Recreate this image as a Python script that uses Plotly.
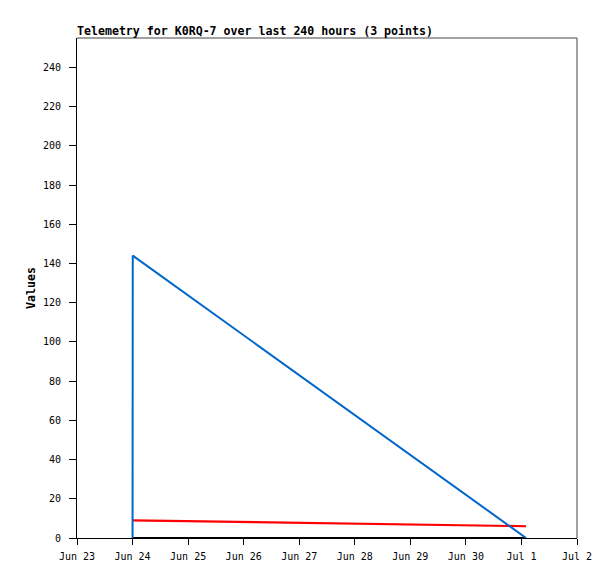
import plotly.graph_objects as go

times = ["2024-06-24 00:00", "2024-06-24 00:05", "2024-07-01 02:00"]
blue_vals = [0, 144, 0]
red_vals = [9, 9, 6]
black_vals = [0, 0, 0]

title_text = "Telemetry for K0RQ-7 over last 240 hours (3 points)"
y_ticks = list(range(0, 241, 20))

mono = "DejaVu Sans Mono"

fig = go.Figure()
fig.add_trace(go.Scatter(x=times, y=black_vals, mode="lines",
                         line=dict(color="#000000", width=2), showlegend=False))
fig.add_trace(go.Scatter(x=times, y=red_vals, mode="lines",
                         line=dict(color="#ff0000", width=2.2), showlegend=False))
fig.add_trace(go.Scatter(x=times, y=blue_vals, mode="lines",
                         line=dict(color="#0066cc", width=2), showlegend=False))

fig.update_layout(
    width=615, height=579,
    margin=dict(l=77, r=38, t=38, b=41),
    paper_bgcolor="white", plot_bgcolor="white",
    font=dict(family=mono, size=10, color="black"),
    title=dict(text="<b>" + title_text + "</b>", font=dict(family=mono, size=11.6, color="black"),
               x=77/615, xanchor="left", xref="container",
               y=1 - 31/579, yanchor="middle", yref="container"),
    shapes=[
        dict(type="line", xref="paper", yref="paper", x0=0, x1=1, y0=1, y1=1,
             line=dict(color="#444444", width=1)),
        dict(type="line", xref="paper", yref="paper", x0=1, x1=1, y0=0, y1=1,
             line=dict(color="#444444", width=1)),
    ],
)
fig.update_xaxes(
    type="date", range=["2024-06-23 00:00", "2024-07-02 00:00"],
    dtick=86400000, tick0="2024-06-23", tickformat="%b %-d",
    showgrid=False, zeroline=False,
    showline=True, linecolor="black", linewidth=1,
    ticks="outside", ticklen=6, tickcolor="black",
    ticklabelstandoff=3,
    tickfont=dict(family=mono, size=10, color="black"),
)
fig.update_yaxes(
    range=[0, 255], tickvals=y_ticks,
    showgrid=False, zeroline=False,
    showline=True, linecolor="black", linewidth=1,
    ticks="outside", ticklen=7, tickcolor="black",
    ticklabelstandoff=6,
    tickfont=dict(family=mono, size=10, color="black"),
    title=dict(text="<b>Values</b>", font=dict(family=mono, size=11.6, color="black"), standoff=4),
)

fig.write_html("out.html", config={"displayModeBar": False},
               post_script="document.body.style.margin='0';")
